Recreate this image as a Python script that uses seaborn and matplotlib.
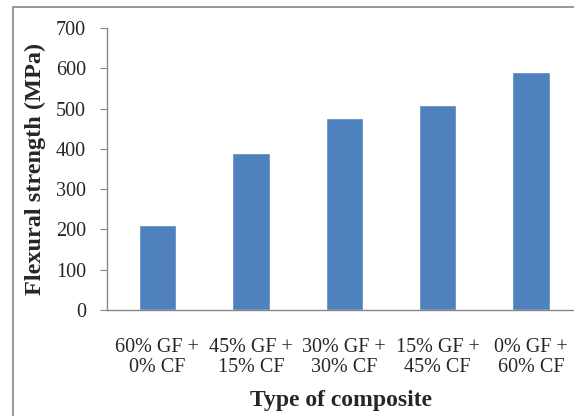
import matplotlib
matplotlib.use('Agg')
import matplotlib.pyplot as plt
import matplotlib.patches as mpatches
import seaborn as sns
import pandas as pd

# Données
composites = ["60% GF +\n0% CF", "45% GF +\n15% CF", "30% GF +\n30% CF",
              "15% GF +\n45% CF", "0% GF +\n60% CF"]
resistance = [212, 389, 477, 510, 590]
graduations = [0, 100, 200, 300, 400, 500, 600, 700]

data = pd.DataFrame({"composite": composites, "resistance": resistance})

sns.set_style("white")
plt.rcParams['font.family'] = ['Liberation Serif', 'DejaVu Serif']

W, H = 574, 416
fig = plt.figure(figsize=(W / 100, H / 100), dpi=100)
ax = fig.add_axes([107 / W, 1 - 310 / H, (574 - 107) / W, (310 - 28) / H])

sns.barplot(data=data, x="composite", y="resistance", color="#4F81BD",
            saturation=1, width=0.4, ax=ax)

ax.set_ylim(0, 700)
ax.set_xlim(-0.54, 4.46)
ax.set_yticks(graduations)
ax.tick_params(axis="y", labelsize=14.5, length=5, width=0.8, color="#868686", left=True, pad=10)
ax.tick_params(axis="x", labelsize=14.5, length=0, pad=20)
for lab in ax.get_xticklabels():
    lab.set_linespacing(1.12)
for s in ["top", "right"]:
    ax.spines[s].set_visible(False)
for s in ["left", "bottom"]:
    ax.spines[s].set_color("#868686")
    ax.spines[s].set_linewidth(1.0)

ax.set_ylabel("Flexural strength (MPa)", fontsize=17.5, fontweight="bold", labelpad=7)
ax.set_xlabel("Type of composite", fontsize=17, fontweight="bold", labelpad=9)

# Cadre extérieur
fig.patches.append(mpatches.Rectangle((13 / W, -0.1), 1.2, 1 - 7 / H + 0.1,
                                      transform=fig.transFigure, fill=False,
                                      edgecolor="#868686", linewidth=1.2))

fig.savefig("out.png", dpi=100)
